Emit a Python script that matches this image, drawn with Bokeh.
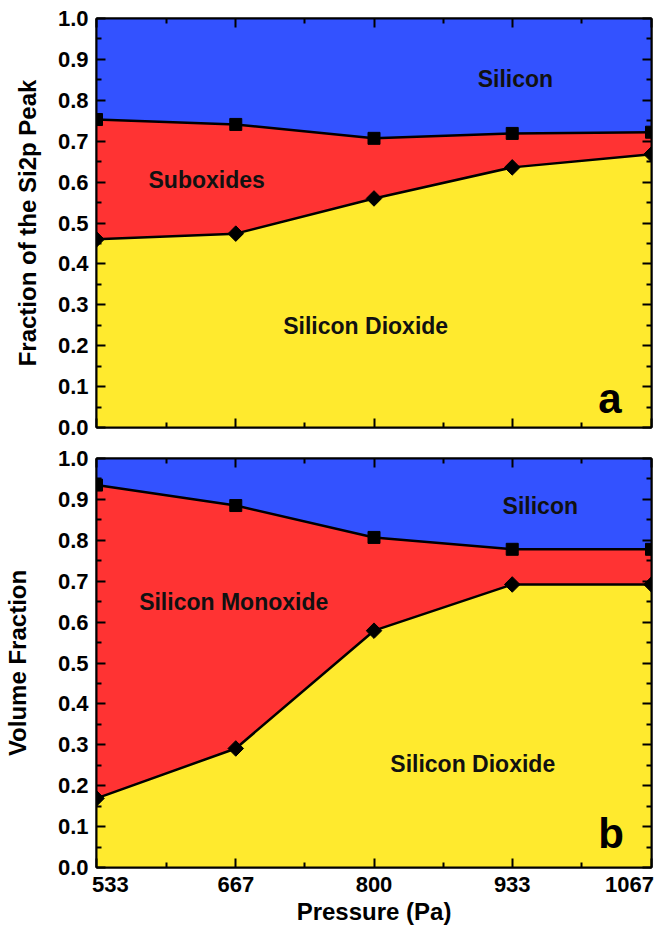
import math
from bokeh.plotting import figure
from bokeh.layouts import column
from bokeh.models import FixedTicker, LinearAxis, Range1d, ColumnDataSource
from bokeh.core.properties import value
from bokeh.embed import file_html
from bokeh.resources import INLINE

# ---------------- data ----------------
pressure = [533, 667, 800, 933, 1067]
x_tick_labels = ["533", "667", "800", "933", "1067"]
x_minor = [600, 733, 867, 1000]

# panel a: fraction of the Si2p peak
a_upper = [0.753, 0.741, 0.707, 0.719, 0.722]   # squares (Silicon / Suboxides boundary)
a_lower = [0.460, 0.474, 0.560, 0.636, 0.668]   # diamonds (Suboxides / Dioxide boundary)

# panel b: volume fraction
b_upper = [0.935, 0.885, 0.807, 0.778, 0.778]
b_lower = [0.169, 0.291, 0.579, 0.692, 0.692]

a_labels = ["Silicon", "Suboxides", "Silicon Dioxide"]
a_label_x = [936, 639, 792]
a_label_y = [0.853, 0.604, 0.247]

b_labels = ["Silicon", "Silicon Monoxide", "Silicon Dioxide"]
b_label_x = [960, 665, 895]
b_label_y = [0.883, 0.648, 0.254]

panel_letters = ["a", "b"]
letter_x = [1027, 1028]
letter_y = [0.071, 0.083]

y_major = [i / 10 for i in range(11)]
y_minor = [i / 10 + 0.05 for i in range(10)]

# styles
BLUE = "#3352FF"
RED = "#FF3333"
YELLOW = "#FFEA2E"
FONT = "Liberation Sans"
FRAME_W = 556                       # px width of plotting frame
label_shift_px = [14, 0, 0, 0, -22]  # edge tick labels pulled inside the frame


def style_axis(ax, ticker, labels=True, size="22px"):
    ax.ticker = ticker
    ax.axis_line_color = "black"
    ax.axis_line_width = 2
    ax.major_tick_in = 9
    ax.major_tick_out = 0
    ax.minor_tick_in = 5
    ax.minor_tick_out = 0
    ax.major_tick_line_width = 2
    ax.minor_tick_line_width = 2
    ax.major_tick_line_color = "black"
    ax.minor_tick_line_color = "black"
    ax.major_label_text_font = FONT
    ax.major_label_text_font_style = "bold"
    if labels:
        ax.major_label_text_color = "black"
        ax.major_label_text_font_size = size
        ax.major_label_standoff = 8
    else:
        ax.major_label_text_color = None
        ax.major_label_text_font_size = "1px"
        ax.major_label_standoff = 0
    ax.axis_label_text_font = FONT
    ax.axis_label_text_font_style = "bold"
    ax.axis_label_text_font_size = "24px"
    ax.axis_label_text_color = "black"


def make_panel(upper, lower, ytitle, height, top, bottom, texts, tx, ty, letter, lx, ly, ystand):
    p = figure(width=668, height=height, output_backend="svg", toolbar_location=None,
               x_range=Range1d(533, 1067), y_range=Range1d(0, 1),
               min_border_left=95, min_border_right=17,
               min_border_top=top, min_border_bottom=bottom)
    p.xgrid.visible = False
    p.ygrid.visible = False
    p.outline_line_color = "black"
    p.outline_line_width = 2
    p.background_fill_color = "white"
    p.border_fill_color = "white"

    src = ColumnDataSource(dict(x=pressure, up=upper, lo=lower))
    p.varea(x="x", y1=0, y2="lo", source=src, fill_color=YELLOW)
    p.varea(x="x", y1="lo", y2="up", source=src, fill_color=RED)
    p.varea(x="x", y1="up", y2=1, source=src, fill_color=BLUE)
    p.line(x="x", y="up", source=src, line_color="black", line_width=2.5)
    p.line(x="x", y="lo", source=src, line_color="black", line_width=2.5)
    p.scatter(x="x", y="up", source=src, marker="square", size=12, color="black")
    p.scatter(x="x", y="lo", source=src, marker="square", angle=math.pi / 4, size=11, color="black")

    tsrc = ColumnDataSource(dict(x=tx, y=ty, t=texts))
    p.text(x="x", y="y", text="t", source=tsrc, text_font=value(FONT), text_font_style="bold",
           text_font_size="23px", text_align="center", text_baseline="middle", text_color="#111111")
    p.text(x=[lx], y=[ly], text=[letter], text_font=value(FONT), text_font_style="bold",
           text_font_size="42px", text_align="center", text_baseline="middle", text_color="black")

    xaxis = p.below[0]
    yaxis = p.left[0]
    style_axis(xaxis, FixedTicker(ticks=pressure, minor_ticks=x_minor), labels=False)
    style_axis(yaxis, FixedTicker(ticks=y_major, minor_ticks=y_minor), labels=True)
    yaxis.major_label_overrides = {v: f"{v:.1f}" for v in y_major}
    yaxis.axis_label = ytitle
    yaxis.axis_label_standoff = ystand

    top_ax = LinearAxis()
    style_axis(top_ax, FixedTicker(ticks=pressure, minor_ticks=x_minor), labels=False)
    p.add_layout(top_ax, "above")
    right_ax = LinearAxis()
    style_axis(right_ax, FixedTicker(ticks=y_major, minor_ticks=y_minor), labels=False)
    p.add_layout(right_ax, "right")
    return p


pa = make_panel(a_upper, a_lower, "Fraction of the Si2p Peak", 440, 18, 13,
                a_labels, a_label_x, a_label_y, panel_letters[0], letter_x[0], letter_y[0], 14)
pb = make_panel(b_upper, b_lower, "Volume Fraction", 490, 18, 63,
                b_labels, b_label_x, b_label_y, panel_letters[1], letter_x[1], letter_y[1], 24)

# tick-label axis for the bottom panel (edge labels pulled inside the frame)
span = pressure[-1] - pressure[0]
label_pos = [x + s * span / FRAME_W for x, s in zip(pressure, label_shift_px)]
lab_ax = LinearAxis(ticker=FixedTicker(ticks=label_pos, minor_ticks=[]),
                    major_label_overrides={pos: t for pos, t in zip(label_pos, x_tick_labels)})
lab_ax.axis_line_color = None
lab_ax.major_tick_line_color = None
lab_ax.minor_tick_line_color = None
lab_ax.major_tick_in = 0
lab_ax.major_tick_out = 0
lab_ax.minor_tick_in = 0
lab_ax.minor_tick_out = 0
lab_ax.major_label_standoff = 9
lab_ax.major_label_text_font = FONT
lab_ax.major_label_text_font_style = "bold"
lab_ax.major_label_text_font_size = "22px"
lab_ax.major_label_text_color = "black"
lab_ax.axis_label = "Pressure (Pa)"
lab_ax.axis_label_standoff = 3
lab_ax.axis_label_text_font = FONT
lab_ax.axis_label_text_font_style = "bold"
lab_ax.axis_label_text_font_size = "24px"
lab_ax.axis_label_text_color = "black"
pb.add_layout(lab_ax, "below")

layout = column(pa, pb, spacing=0)
open("out.html", "w").write(file_html(layout, INLINE))
